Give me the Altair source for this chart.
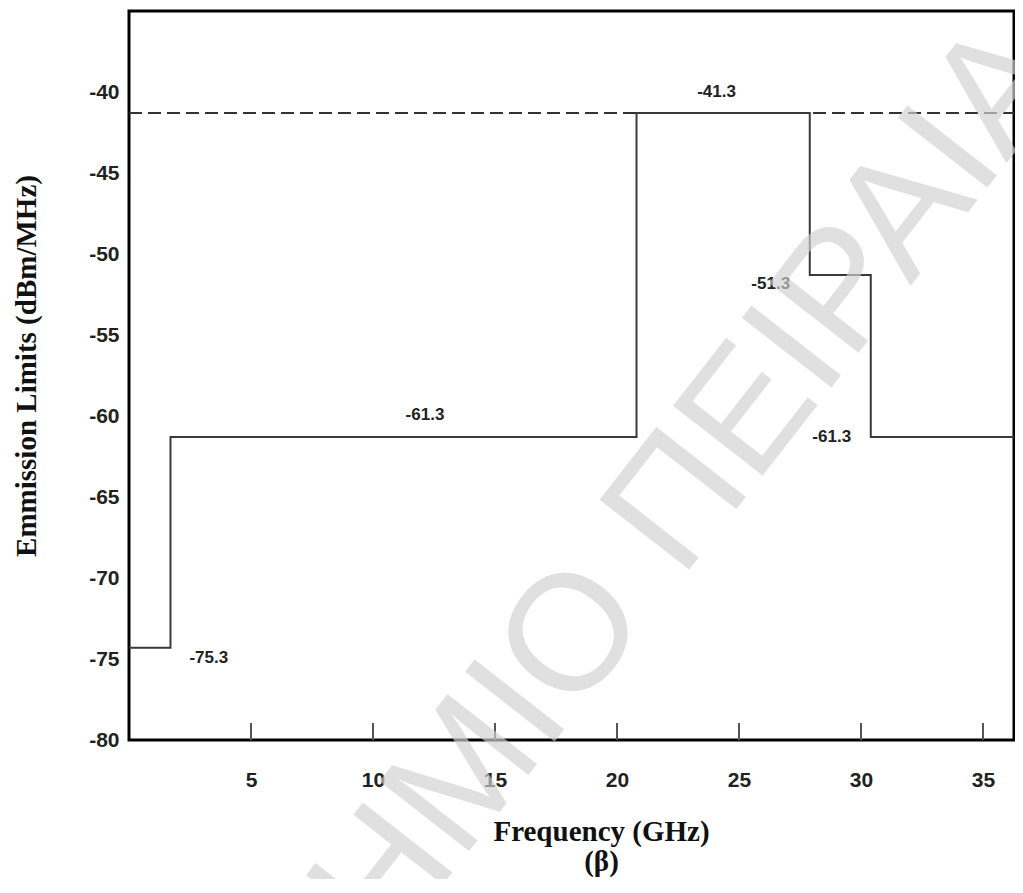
import altair as alt
import pandas as pd

# Step curve of the emission mask (GHz, dBm/MHz)
freq_steps = [0, 1.7, 20.8, 27.9, 30.4, 36.27]
limit_steps = [-74.3, -61.3, -41.3, -51.3, -61.3, -61.3]

# Dashed reference level
ref_freq = [0, 36.27]
ref_level = [-41.3, -41.3]

# Value annotations
label_text = ["-41.3", "-51.3", "-61.3", "-61.3", "-75.3"]
label_x = [24.08, 26.3, 12.13, 28.8, 3.27]
label_y = [-39.98, -51.87, -59.94, -61.28, -74.96]

x_ticks = [5, 10, 15, 20, 25, 30, 35]
y_ticks = [-80, -75, -70, -65, -60, -55, -50, -45, -40]

watermark = "ΠΑΝΕΠΙΣΤΗΜΙΟ ΠΕΙΡΑΙΑ"

step_df = pd.DataFrame({"f": freq_steps, "v": limit_steps})
ref_df = pd.DataFrame({"f": ref_freq, "v": ref_level})
lab_df = pd.DataFrame({"f": label_x, "v": label_y, "t": label_text})
tick_df = pd.DataFrame({"f": x_ticks})
wm_df = pd.DataFrame({"t": [watermark]})

xscale = alt.Scale(domain=[0, 36.27], nice=False, zero=False)
yscale = alt.Scale(domain=[-80, -35], nice=False, zero=False)

xaxis = alt.Axis(
    values=x_ticks, grid=False, domain=False, ticks=False, tickSize=0,
    labelPadding=40, labelBaseline="middle", labelExpr="toString(datum.value)",
    labelFont="Liberation Sans", labelFontSize=21, labelFontWeight="bold", labelColor="#222",
    title=["Frequency (GHz)", "(β)"], titleFont="Liberation Serif", titleFontSize=29,
    titleFontWeight="bold", titleColor="#111", titleX=472, titleY=77,
    titleBaseline="top", titleAlign="center", titleLineHeight=30,
)
yaxis = alt.Axis(
    values=y_ticks, grid=False, domain=False, ticks=False, tickSize=0,
    labelPadding=10, labelExpr="toString(datum.value)",
    labelFont="Liberation Sans", labelFontSize=21, labelFontWeight="bold", labelColor="#222",
    title="Emmission Limits (dBm/MHz)", titleFont="Liberation Serif", titleFontSize=29,
    titleFontWeight="bold", titleColor="#111", titleAngle=270, titleX=-103, titleY=354.5,
    titleBaseline="middle", titleAlign="center",
)

ref = alt.Chart(ref_df).mark_line(color="#333", strokeWidth=2, strokeDash=[13, 6]).encode(
    x=alt.X("f:Q", scale=xscale, axis=xaxis),
    y=alt.Y("v:Q", scale=yscale, axis=yaxis),
)

step = alt.Chart(step_df).mark_line(color="#3a3a3a", strokeWidth=2, interpolate="step-after").encode(
    x=alt.X("f:Q", scale=xscale),
    y=alt.Y("v:Q", scale=yscale),
)

ticks = alt.Chart(tick_df).mark_rule(color="#555", strokeWidth=2).encode(
    x=alt.X("f:Q", scale=xscale),
    y=alt.value(729),
    y2=alt.value(712),
)

labels = alt.Chart(lab_df).mark_text(
    font="Liberation Sans", fontSize=17, fontWeight="bold", color="#222",
    align="center", baseline="middle",
).encode(
    x=alt.X("f:Q", scale=xscale),
    y=alt.Y("v:Q", scale=yscale),
    text="t:N",
)

wm = alt.Chart(wm_df).mark_text(
    font="Liberation Sans", fontSize=165, color="#d1d1d1", opacity=0.67,
    angle=308, align="center", baseline="middle",
).encode(
    x=alt.value(308),
    y=alt.value(800),
    text="t:N",
)

chart = alt.layer(ref, step, ticks, labels, wm).properties(
    width=885, height=729,
    autosize=alt.AutoSizeParams(type="none"),
    padding={"left": 121, "top": 3, "right": 1, "bottom": 139},
).configure_view(stroke="black", strokeWidth=3)

chart.save("out.html", embed_options={"renderer": "svg", "actions": False})
